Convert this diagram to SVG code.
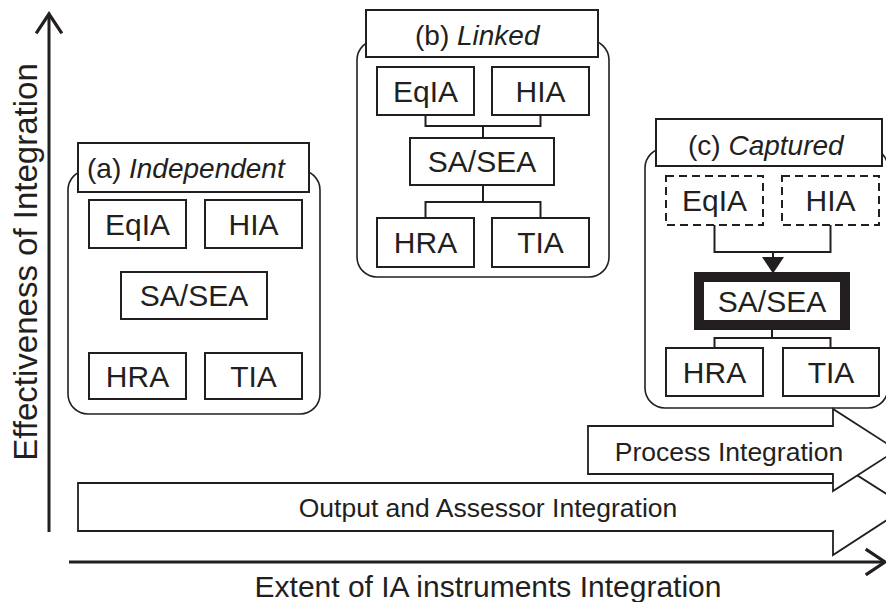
<svg xmlns="http://www.w3.org/2000/svg" width="886" height="602" viewBox="0 0 886 602">
<style>
text{font-family:"Liberation Sans",Arial,sans-serif;fill:#231f20}
.box{fill:#fff;stroke:#231f20;stroke-width:2}
.dash{fill:#fff;stroke:#231f20;stroke-width:2;stroke-dasharray:8 5}
.panel{fill:#fff;stroke:#231f20;stroke-width:1.6}
.lbl{font-size:30px;text-anchor:middle}
.ttl{font-size:28px}
.con{fill:none;stroke:#231f20;stroke-width:2}
.axis{fill:none;stroke:#231f20;stroke-width:3}
.band{fill:#fff;stroke:#231f20;stroke-width:1.8}
.bandt{font-size:26.5px;text-anchor:middle}
</style>
<defs>
<marker id="open" markerUnits="userSpaceOnUse" markerWidth="30" markerHeight="30" viewBox="-20 -14 22 28" refX="0" refY="0" orient="auto">
<polyline points="-18,-12 0,0 -18,12" fill="none" stroke="#231f20" stroke-width="3"/>
</marker>
<marker id="tri" markerUnits="userSpaceOnUse" markerWidth="22" markerHeight="22" viewBox="0 -10 15 20" refX="0" refY="0" orient="auto">
<polygon points="0,-10 15,0 0,10" fill="#231f20"/>
</marker>
</defs>

<g id="axes">
<line class="axis" x1="49" y1="532" x2="49" y2="14" marker-end="url(#open)"/>
<line class="axis" x1="69" y1="562" x2="885" y2="562" marker-end="url(#open)"/>
<text transform="translate(37,262) rotate(-90)" font-size="33" text-anchor="middle">Effectiveness of Integration</text>
<text x="488" y="597" font-size="30" text-anchor="middle">Extent of IA instruments Integration</text>
</g>

<g id="panel-a">
<rect class="panel" x="68" y="170" width="252" height="244" rx="20"/>
<rect class="box" x="78" y="143" width="231" height="49"/>
<text class="ttl" x="87" y="178">(a) <tspan font-style="italic">Independent</tspan></text>
</g>
<g id="a-eqia"><rect class="box" x="89" y="200" width="97" height="48"/><text class="lbl" x="137.5" y="235">EqIA</text></g>
<g id="a-hia"><rect class="box" x="205" y="200" width="97" height="48"/><text class="lbl" x="253.5" y="235">HIA</text></g>
<g id="a-sasea"><rect class="box" x="121" y="272" width="146" height="47"/><text class="lbl" x="194" y="306">SA/SEA</text></g>
<g id="a-hra"><rect class="box" x="89" y="353" width="97" height="46"/><text class="lbl" x="137.5" y="387">HRA</text></g>
<g id="a-tia"><rect class="box" x="205" y="353" width="97" height="46"/><text class="lbl" x="253.5" y="387">TIA</text></g>

<g id="panel-b">
<rect class="panel" x="357" y="40" width="252" height="237" rx="20"/>
<rect class="box" x="366" y="10" width="232" height="47"/>
<text class="ttl" x="415" y="45">(b) <tspan font-style="italic">Linked</tspan></text>
</g>
<g id="b-eqia"><rect class="box" x="377" y="67" width="97" height="48"/><text class="lbl" x="425.5" y="102">EqIA</text></g>
<g id="b-hia"><rect class="box" x="492" y="67" width="97" height="48"/><text class="lbl" x="540.5" y="102">HIA</text></g>
<g id="b-sasea"><rect class="box" x="410" y="138" width="144" height="47"/><text class="lbl" x="482" y="172">SA/SEA</text></g>
<g id="b-hra"><rect class="box" x="377" y="218" width="97" height="49"/><text class="lbl" x="425.5" y="253">HRA</text></g>
<g id="b-tia"><rect class="box" x="492" y="218" width="97" height="49"/><text class="lbl" x="540.5" y="253">TIA</text></g>

<g id="panel-c">
<rect class="panel" x="645" y="148" width="243" height="260" rx="20"/>
<rect class="box" x="656" y="119" width="226" height="47"/>
<text class="ttl" x="688" y="155">(c) <tspan font-style="italic">Captured</tspan></text>
</g>
<g id="c-eqia"><rect class="dash" x="666" y="176" width="97" height="49"/><text class="lbl" x="714.5" y="211">EqIA</text></g>
<g id="c-hia"><rect class="dash" x="782" y="176" width="97" height="49"/><text class="lbl" x="830.5" y="211">HIA</text></g>
<g id="c-sasea"><rect x="699" y="277" width="146" height="48" fill="#fff" stroke="#231f20" stroke-width="10"/><text class="lbl" x="772" y="312">SA/SEA</text></g>
<g id="c-hra"><rect class="box" x="666" y="348" width="97" height="48"/><text class="lbl" x="714.5" y="383">HRA</text></g>
<g id="c-tia"><rect class="box" x="783" y="348" width="96" height="48"/><text class="lbl" x="831" y="383">TIA</text></g>

<g id="connectors">
<path class="con" d="M425.5,115 V126 H540.5 V115 M483,126 V138 M483,185 V202 M425.5,218 V202 H540.5 V218"/>
<path class="con" d="M714.5,225 V252 H830.5 V225"/>
<line class="con" x1="773" y1="251" x2="773" y2="257" marker-end="url(#tri)"/>
<path class="con" d="M772,330 V338 M714.5,348 V338 H830.5 V348"/>
</g>

<g id="band-output">
<polygon class="band" points="78,483 833,483 833,460 907,507 833,555 833,531 78,531"/>
<text class="bandt" x="488" y="517">Output and Assessor Integration</text>
</g>
<g id="band-process">
<polygon class="band" points="588,426 833,426 833,409 897,450 833,491 833,474 588,474"/>
<text class="bandt" x="729" y="461">Process Integration</text>
</g>
</svg>
